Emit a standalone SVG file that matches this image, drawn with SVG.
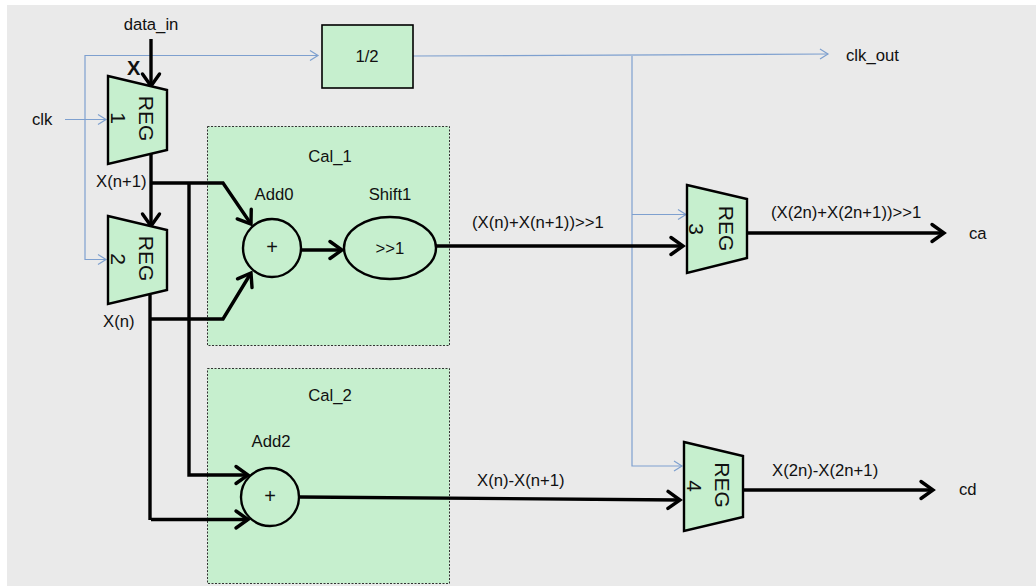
<svg xmlns="http://www.w3.org/2000/svg" width="1036" height="587" viewBox="0 0 1036 587">
<style>
text{font-family:"Liberation Sans",Arial,sans-serif;font-size:16.7px;fill:#111}
.m{text-anchor:middle}
.box{fill:#c6efce;stroke:#333;stroke-width:1;stroke-dasharray:2 1.5}
.shape{fill:#c6efce;stroke:#000;stroke-width:2.4}
.reg{font-size:21px}
.plus{font-size:20px}
.thick{fill:none;stroke:#000;stroke-width:3.4}
.thin{fill:none;stroke:#7ea0cf;stroke-width:1.2}
.ah{fill:none;stroke:#000;stroke-width:3.4;stroke-linecap:round}
.at{fill:none;stroke:#7ea0cf;stroke-width:1.2}
</style>
<defs>
<marker id="big" markerUnits="userSpaceOnUse" markerWidth="20" markerHeight="24" refX="15" refY="12" orient="auto"><path d="M3 3.500 L15 12 L3 20.500" class="ah"/></marker>
<marker id="small" markerUnits="userSpaceOnUse" markerWidth="12" markerHeight="14" refX="10" refY="7" orient="auto"><path d="M2 2 L10 7 L2 12" class="at"/></marker>
</defs>
<rect width="1036" height="587" fill="#fff"/>
<rect x="7" y="5" width="1029" height="581" fill="#eaeaea"/>
<g id="cal_1"><rect class="box" x="207.500" y="126.500" width="242" height="219"/><text class="m" x="330" y="162">Cal_1</text></g>
<g id="cal_2"><rect class="box" x="207.500" y="368.500" width="242" height="215"/><text class="m" x="330" y="401">Cal_2</text></g>
<g id="connectors">
<path class="thin" d="M318 55.500 H85 V259.500 H106" marker-end="url(#small)"/>
<path class="thin" d="M85 55.500 H318" marker-end="url(#small)"/>
<path class="thin" d="M65 119.500 H106" marker-end="url(#small)"/>
<path class="thin" d="M413 56 L828 54" marker-end="url(#small)"/>
<path class="thin" d="M632 56 V466 H682" marker-end="url(#small)"/>
<path class="thin" d="M632 214.500 H686" marker-end="url(#small)"/>
<path class="thick" d="M151 39 V86" marker-end="url(#big)"/>
<path class="thick" d="M151 154 V226" marker-end="url(#big)"/>
<path class="thick" d="M151 183 H223 L251 224" marker-end="url(#big)"/>
<path class="thick" d="M150 295 V520"/>
<path class="thick" d="M151 319 H223 L251 273" marker-end="url(#big)"/>
<path class="thick" d="M189 183 V475 H248" marker-end="url(#big)"/>
<path class="thick" d="M151 519.500 H248" marker-end="url(#big)"/>
<path class="thick" d="M302 250 H342" marker-end="url(#big)"/>
<path class="thick" d="M436 246 H683" marker-end="url(#big)"/>
<path class="thick" d="M300 497 L680 500" marker-end="url(#big)"/>
<path class="thick" d="M746 233 H944" marker-end="url(#big)"/>
<path class="thick" d="M742 490 H933" marker-end="url(#big)"/>
</g>
<g id="reg1"><path class="shape" d="M108 76 L167 90 V150 L108 164 Z"/><text class="reg m" transform="translate(146,118.500) rotate(90)" y="7.500">REG</text><text class="reg m" transform="translate(118,118) rotate(90)" y="7.500">1</text></g>
<g id="reg2"><path class="shape" d="M108 216 L167 230 V290 L108 304 Z"/><text class="reg m" transform="translate(146,258.500) rotate(90)" y="7.500">REG</text><text class="reg m" transform="translate(118,259) rotate(90)" y="7.500">2</text></g>
<g id="reg3"><path class="shape" d="M687 185 L747 199 V258 L687 273 Z"/><text class="reg m" transform="translate(726,228.500) rotate(90)" y="7.500">REG</text><text class="reg m" transform="translate(696,229) rotate(90)" y="7.500">3</text></g>
<g id="reg4"><path class="shape" d="M684 442 L743 456 V517 L684 531 Z"/><text class="reg m" transform="translate(722,485) rotate(90)" y="7.500">REG</text><text class="reg m" transform="translate(694,486) rotate(90)" y="7.500">4</text></g>
<g id="half"><rect class="shape" style="stroke-width:1.600" x="322" y="25" width="91" height="63"/><text class="m" x="367" y="62">1/2</text></g>
<g id="add0"><circle class="shape" cx="272" cy="248" r="29"/><text class="plus m" x="272" y="254">+</text><text class="m" x="274" y="200">Add0</text></g>
<g id="shift1"><ellipse class="shape" cx="390" cy="248" rx="46" ry="31"/><text class="m" x="390" y="254">&gt;&gt;1</text><text class="m" x="390" y="200">Shift1</text></g>
<g id="add2"><circle class="shape" cx="270" cy="497" r="29"/><text class="plus m" x="270" y="503">+</text><text class="m" x="271" y="447">Add2</text></g>
<g id="labels">
<text class="m" x="151" y="30">data_in</text>
<text x="127" y="75" style="font-size:20px;font-weight:bold">X</text>
<text x="32" y="125">clk</text>
<text x="96" y="187">X(n+1)</text>
<text x="103" y="327">X(n)</text>
<text x="846" y="61">clk_out</text>
<text x="472" y="228">(X(n)+X(n+1))&gt;&gt;1</text>
<text x="771" y="218">(X(2n)+X(2n+1))&gt;&gt;1</text>
<text x="969" y="239">ca</text>
<text x="477" y="486">X(n)-X(n+1)</text>
<text x="772" y="476">X(2n)-X(2n+1)</text>
<text x="959" y="495">cd</text>
</g>
</svg>
